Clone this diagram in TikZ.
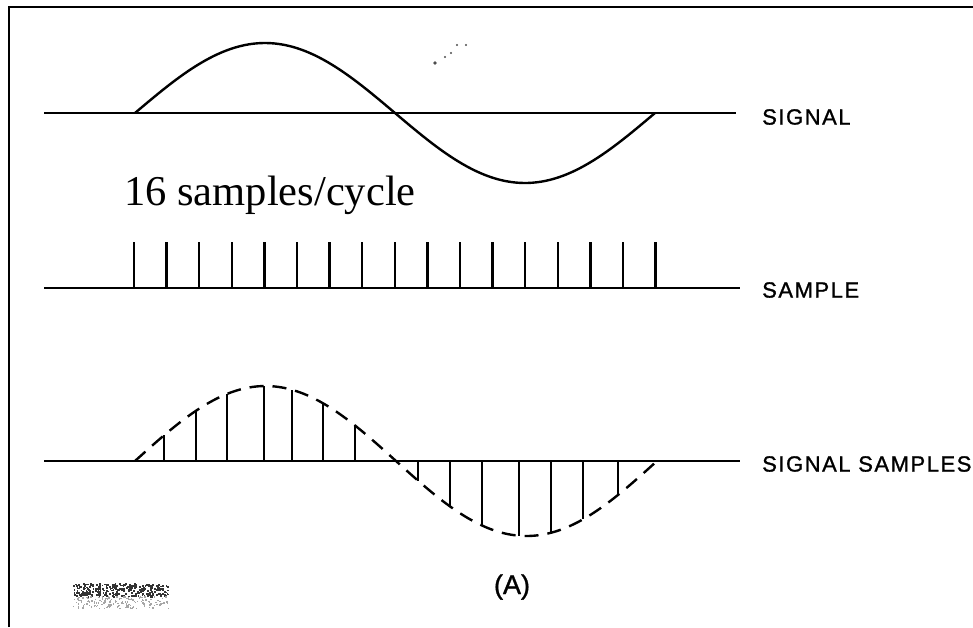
\documentclass[tikz,border=0pt]{standalone}
\usepackage{fontspec}
\setmainfont{Liberation Serif}
\newfontfamily\labfont[LetterSpace=7,FakeBold=1.2]{Liberation Sans}
\newfontfamily\plainsans[FakeBold=1.2]{Liberation Sans}
\begin{document}
\begin{tikzpicture}[x=1pt,y=-1pt,
  axis/.style={line width=2.4pt},
  wave/.style={line width=2.4pt},
  stem/.style={line width=2.4pt},
  dashwave/.style={line width=2.4pt, dash pattern=on 14pt off 9pt},
  lab/.style={anchor=west, inner sep=0pt, font=\labfont\fontsize{22}{24}\selectfont},
  frame/.style={line width=2.8pt}]
\useasboundingbox (0,0) rectangle (973,627);
% frame
\draw[frame] (9,627) -- (9,7) -- (973,7);
% ---- signal row
\coordinate (s0) at (44,113);
\coordinate (s1) at (736,113);
\draw[axis] (s0) -- (s1);
\draw[wave] plot[domain=0:520, samples=120] ({135+\x},{113-70*sin(\x/520*360)});
\node[lab] (lsig) at (762,117) {SIGNAL};
% specks
\foreach \px/\py/\r in {435/63/1.8,445/57/1.1,451/53/1.1,457/45/1.1,466/45/1.1}
  \fill[black!70] (\px,\py) circle (\r);
% caption
\node[anchor=base west, inner sep=0pt, font=\fontsize{42.5}{46}\selectfont] (cap) at (124,205) {16 samples/cycle};
% ---- sample row
\coordinate (p0) at (44,288);
\coordinate (p1) at (740,288);
\draw[axis] (p0) -- (p1);
\foreach \k in {0,...,16}
  \draw[stem] ({134+32.6*\k},288) -- ({134+32.6*\k},242);
\node[lab] (lsam) at (762,290) {SAMPLE};
% ---- signal samples row
\coordinate (q0) at (44,461);
\coordinate (q1) at (740,461);
\draw[axis] (q0) -- (q1);
\draw[dashwave] plot[domain=0:522, samples=120] ({135+\x},{461-75*sin(\x/522*360)});
\foreach \xx in {164,196,227,264,292,323,355,418,450,482,519,551,583,618}
  \draw[stem] (\xx,461) -- (\xx,{461-75*sin((\xx-135)/522*360)});
\node[lab] (lss) at (762,464) {SIGNAL SAMPLES};
% figure tag
\node[inner sep=0pt, font=\plainsans\fontsize{27}{30}\selectfont] (tag) at (512,587) {(A)};
% smudged stamp (illegible)
\pgfmathsetseed{7}
\foreach \i in {1,...,300}{
  \pgfmathsetmacro{\rx}{73+95*rnd}
  \pgfmathsetmacro{\ry}{583+13*rnd}
  \fill[black!80] (\rx,\ry) rectangle ++(1.8,1.8);
}
\foreach \i in {1,...,160}{
  \pgfmathsetmacro{\rx}{73+95*rnd}
  \pgfmathsetmacro{\ry}{596+12*rnd}
  \fill[black!35] (\rx,\ry) rectangle ++(1.4,1.4);
}
\end{tikzpicture}
\end{document}
